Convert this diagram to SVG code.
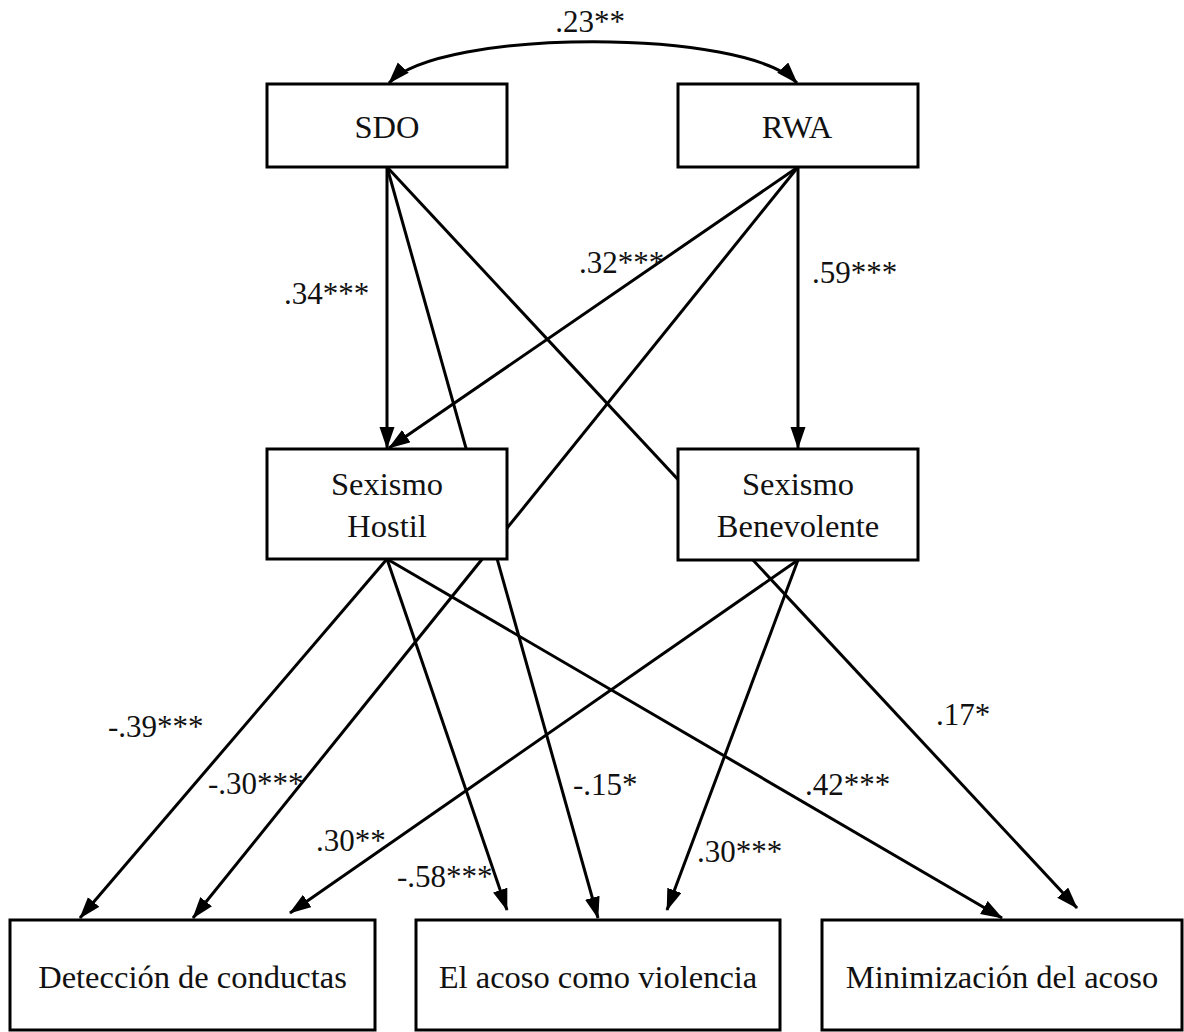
<svg xmlns="http://www.w3.org/2000/svg" width="1184" height="1032" viewBox="0 0 1184 1032">
<style>
.box{fill:#fff;stroke:#000;stroke-width:3}
.node{font-family:"Liberation Serif","Times New Roman",serif;font-size:32.5px;fill:#111;text-anchor:middle}
.lbl{font-family:"Liberation Serif","Times New Roman",serif;font-size:31px;fill:#111}
.edge{fill:none;stroke:#000;stroke-width:3;marker-end:url(#ah)}
</style>
<defs>
<marker id="ah" markerUnits="userSpaceOnUse" markerWidth="24" markerHeight="16" refX="21" refY="7.5" orient="auto-start-reverse">
<path d="M0,0 L22,7.5 L0,15 z" fill="#000"/>
</marker>
</defs>
<g id="connectors">
<path class="edge" d="M389,83 C440,28 746,28 797,83" marker-start="url(#ah)"/>
<path class="edge" d="M387,167 L387,448"/>
<path class="edge" d="M387,167 L598,918"/>
<path class="edge" d="M387,167 L1077,908"/>
<path class="edge" d="M798,167 L389,448"/>
<path class="edge" d="M798,167 L798,448"/>
<path class="edge" d="M798,167 L193,918"/>
<path class="edge" d="M387,559 L80,918"/>
<path class="edge" d="M387,559 L507,910"/>
<path class="edge" d="M387,559 L1002,918"/>
<path class="edge" d="M798,560 L290,913"/>
<path class="edge" d="M798,560 L667,910"/>
</g>
<g id="labels">
<text class="lbl" x="590" y="32" text-anchor="middle">.23**</text>
<text class="lbl" x="284" y="304">.34***</text>
<text class="lbl" x="579" y="273">.32***</text>
<text class="lbl" x="812" y="283">.59***</text>
<text class="lbl" x="108" y="737">-.39***</text>
<text class="lbl" x="208" y="794">-.30***</text>
<text class="lbl" x="316" y="851">.30**</text>
<text class="lbl" x="397" y="887">-.58***</text>
<text class="lbl" x="573" y="795">-.15*</text>
<text class="lbl" x="697" y="862">.30***</text>
<text class="lbl" x="805" y="795">.42***</text>
<text class="lbl" x="936" y="725">.17*</text>
</g>
<g id="sdo">
<rect class="box" x="267" y="84" width="240" height="83"/>
<text class="node" x="387" y="138">SDO</text>
</g>
<g id="rwa">
<rect class="box" x="678" y="84" width="240" height="83"/>
<text class="node" x="797" y="138">RWA</text>
</g>
<g id="hostil">
<rect class="box" x="267" y="449" width="240" height="110"/>
<text class="node" x="387" y="495">Sexismo</text>
<text class="node" x="387" y="537">Hostil</text>
</g>
<g id="benevolente">
<rect class="box" x="678" y="449" width="240" height="111"/>
<text class="node" x="798" y="495">Sexismo</text>
<text class="node" x="798" y="537">Benevolente</text>
</g>
<g id="deteccion">
<rect class="box" x="10" y="920" width="365" height="110"/>
<text class="node" x="192.5" y="988">Detección de conductas</text>
</g>
<g id="acoso">
<rect class="box" x="416" y="920" width="364" height="110"/>
<text class="node" x="598" y="988">El acoso como violencia</text>
</g>
<g id="minimizacion">
<rect class="box" x="822" y="920" width="360" height="110"/>
<text class="node" x="1002" y="988">Minimización del acoso</text>
</g>
</svg>
